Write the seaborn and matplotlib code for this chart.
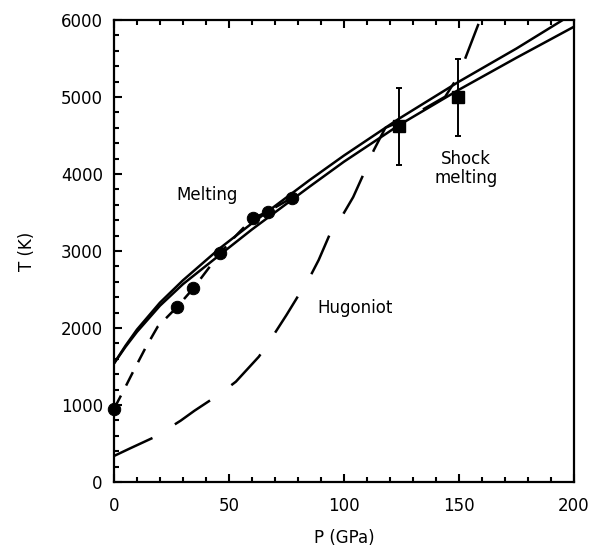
"""
熔化曲线与 Hugoniot 曲线 (P-T 图)
"""

import numpy as np
import matplotlib
matplotlib.use("Agg")
import matplotlib.pyplot as plt
from matplotlib.ticker import MultipleLocator
import seaborn as sns

# 熔化曲线 (两条实线)
melt_a_p = [0, 5, 10, 20, 30, 46, 60, 85, 100, 124, 150, 175, 200]
melt_a_t = [1540, 1770, 1980, 2330, 2620, 3035, 3360, 3920, 4240, 4720, 5200, 5630, 6090]
melt_b_p = [0, 5, 10, 20, 30, 46, 60, 85, 100, 124, 150, 175, 200]
melt_b_t = [1540, 1755, 1950, 2290, 2570, 2950, 3280, 3835, 4160, 4636, 5095, 5510, 5913]

# 短虚线 (实验拟合)
fit_p = [0, 4.3, 8.7, 13.6, 19, 27.3, 34.5, 42, 46, 54, 60.3, 66.8, 77.3]
fit_t = [950, 1195, 1455, 1736, 2017, 2269, 2515, 2810, 2970, 3230, 3424, 3510, 3690]

# Hugoniot (长虚线)
hug_p = [0, 7, 18, 29, 35, 46, 53, 63, 68, 75, 79, 86, 89, 94, 99, 104, 108, 113, 118,
         125, 135, 144, 150, 153, 158.5]
hug_t = [338, 437, 589, 797, 926, 1143, 1303, 1628, 1844, 2169, 2364, 2710, 2883, 3229,
         3445, 3700, 3965, 4312, 4600, 4690, 4850, 5004, 5286, 5523, 5950]

# 实验点 (圆点)
exp_p = [0, 27.3, 34.5, 46.1, 60.3, 66.8, 77.3]
exp_t = [948, 2269, 2515, 2970, 3424, 3510, 3690]

# 冲击熔化点 (方块 + 误差棒)
shock_p = [124, 149.4]
shock_t = [4620, 5000]
shock_err = [500, 500]

sns.set_style("ticks")
plt.rcParams['font.family'] = ['DejaVu Sans']
plt.rcParams['text.color'] = 'black'
plt.rcParams['axes.labelcolor'] = 'black'

fig = plt.figure(figsize=(5.93, 5.5), dpi=100)
ax = fig.add_axes([0.1922, 0.1236, 0.7757, 0.84])

lw = 1.8
for p, t in [(melt_a_p, melt_a_t), (melt_b_p, melt_b_t)]:
    sns.lineplot(x=p, y=t, ax=ax, color='black', lw=lw, sort=False, estimator=None)

sns.lineplot(x=fit_p, y=fit_t, ax=ax, color='black', lw=lw, sort=False, estimator=None)
ax.lines[-1].set_dashes([6, 4.5])
sns.lineplot(x=hug_p, y=hug_t, ax=ax, color='black', lw=lw, sort=False, estimator=None)
ax.lines[-1].set_dashes([17, 10.5])

sns.scatterplot(x=exp_p, y=exp_t, ax=ax, color='black', s=80, marker='o',
                edgecolor='black', zorder=5, clip_on=False)
ax.errorbar(shock_p, shock_t, yerr=shock_err, fmt='s', color='black', ms=9,
            capsize=2.5, elinewidth=1.4, capthick=1.4, zorder=5)

ax.text(40.3, 3727, 'Melting', ha='center', va='center', fontsize=12)
ax.text(104.8, 2260, 'Hugoniot', ha='center', va='center', fontsize=12)
ax.text(153, 4075, 'Shock\nmelting', ha='center', va='center', fontsize=12,
        linespacing=1.1)

ax.set_xlim(0, 200)
ax.set_ylim(0, 6000)
ax.xaxis.set_major_locator(MultipleLocator(50))
ax.xaxis.set_minor_locator(MultipleLocator(10))
ax.yaxis.set_major_locator(MultipleLocator(1000))
ax.yaxis.set_minor_locator(MultipleLocator(200))
ax.tick_params(which='both', direction='in', top=True, bottom=True, left=True,
               right=False, width=1.5, labelsize=12, colors='black')
ax.tick_params(which='major', length=6)
ax.tick_params(which='minor', length=3.5)
ax.tick_params(axis='x', which='both', pad=11)
ax.tick_params(axis='y', pad=8)
for s in ax.spines.values():
    s.set_visible(True)
    s.set_linewidth(1.6)
    s.set_color('black')

ax.set_xlabel('P (GPa)', fontsize=12, labelpad=10)
ax.set_ylabel('T (K)', fontsize=12, labelpad=18)

fig.savefig('out.png', dpi=100)
